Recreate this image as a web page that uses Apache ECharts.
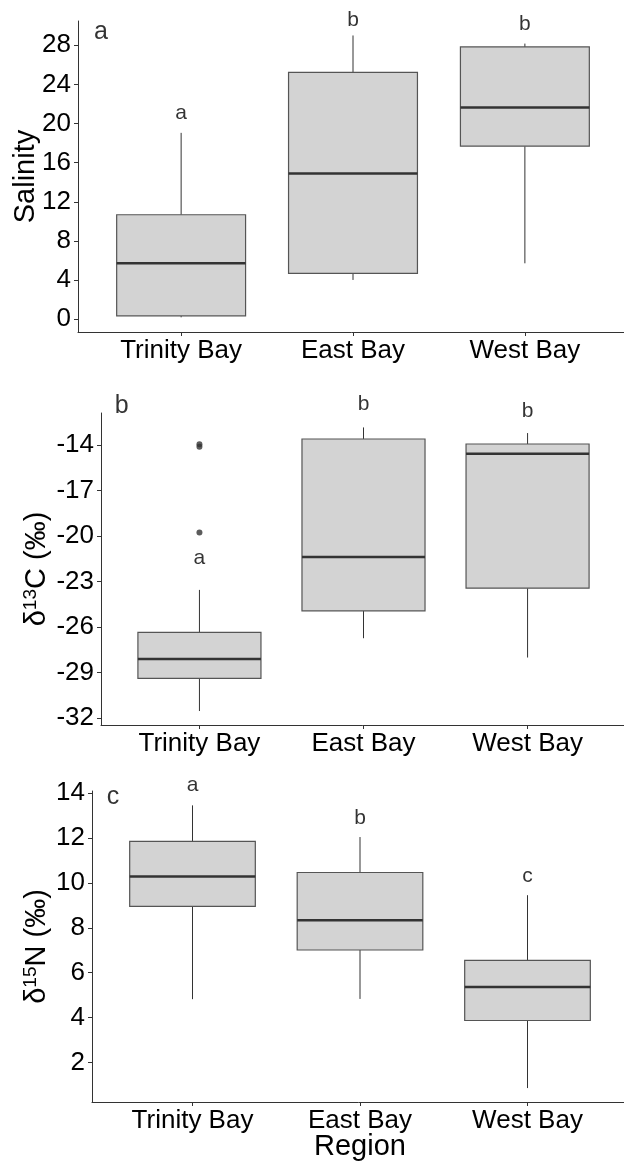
<!DOCTYPE html>
<html>
<head>
<meta charset="utf-8">
<script src="https://cdn.jsdelivr.net/npm/echarts@6/dist/echarts.min.js"></script>
<style>
  html, body { margin: 0; padding: 0; background: #fff; }
  #chart { width: 624px; height: 1161px; }
</style>
</head>
<body>
<div id="chart"></div>
<script>
// categories
const regions = ['Trinity Bay', 'East Bay', 'West Bay']

// box stats per region: [lower whisker, Q1, median, Q3, upper whisker]
const salinityStats = [
  [0.2, 0.35, 5.72, 10.68, 19.05],
  [4.02, 4.7, 14.9, 25.24, 29.0],
  [5.72, 17.69, 21.64, 27.83, 28.17]
]
const d13CStats = [
  [-31.52, -29.37, -28.09, -26.34, -23.55],
  [-26.73, -24.93, -21.38, -13.62, -12.86],
  [-28.0, -23.44, -14.59, -13.95, -13.23]
]
const d15NStats = [
  [4.82, 8.95, 10.28, 11.85, 13.45],
  [4.83, 7.01, 8.33, 10.46, 12.04],
  [0.86, 3.87, 5.36, 6.55, 9.45]
]

// outliers: [region position, value]
const d13COutliers = [[1, -13.97], [1, -14.13], [1, -19.78]]

// significance letters and where they sit
const salinityLetters = ['a', 'b', 'b']
const salinityLetterY = [21.09, 30.61, 30.2]
const d13CLetters = ['a', 'b', 'b']
const d13CLetterY = [-21.49, -11.33, -11.76]
const d15NLetters = ['a', 'b', 'c']
const d15NLetterY = [14.37, 12.89, 10.3]

// panel tags: [x, y]
const panelTags = ['a', 'b', 'c']
const panelTagPos = [[0.534, 29.33], [0.526, -11.45], [0.526, 13.84]]

// axis ticks and ranges
const salinityTicks = [0, 4, 8, 12, 16, 20, 24, 28]
const d13CTicks = [-32, -29, -26, -23, -20, -17, -14]
const d15NTicks = [2, 4, 6, 8, 10, 12, 14]
const salinityRange = [-1.3, 30.48]
const d13CRange = [-32.44, -11.91]
const d15NRange = [0.24, 14.09]

const FONT = 'Liberation Sans, Arial, sans-serif'
const BOX_WIDTH = 0.75

function renderBox(params, api) {
  const x = api.value(0)
  const lo = api.coord([x, api.value(1)])
  const q1 = api.coord([x, api.value(2)])
  const med = api.coord([x, api.value(3)])
  const q3 = api.coord([x, api.value(4)])
  const hi = api.coord([x, api.value(5)])
  const half = api.size([BOX_WIDTH, 0])[0] / 2
  const cx = med[0]
  return {
    type: 'group',
    children: [
      { type: 'line', shape: { x1: cx, y1: q3[1], x2: cx, y2: hi[1] }, style: { stroke: '#333', lineWidth: 1 } },
      { type: 'line', shape: { x1: cx, y1: q1[1], x2: cx, y2: lo[1] }, style: { stroke: '#333', lineWidth: 1 } },
      {
        type: 'rect',
        shape: { x: cx - half, y: q3[1], width: half * 2, height: q1[1] - q3[1] },
        style: { fill: '#d3d3d3', stroke: '#555', lineWidth: 1.2 }
      },
      { type: 'line', shape: { x1: cx - half, y1: med[1], x2: cx + half, y2: med[1] }, style: { stroke: '#333', lineWidth: 2.5 } }
    ]
  }
}

function boxSeries(stats, idx) {
  return {
    type: 'custom',
    xAxisIndex: idx,
    yAxisIndex: idx,
    renderItem: renderBox,
    encode: { x: 0, y: [1, 2, 3, 4, 5] },
    data: stats.map((s, i) => [i + 1].concat(s)),
    silent: true
  }
}

function letterSeries(letters, ys, idx) {
  return {
    type: 'scatter',
    xAxisIndex: idx,
    yAxisIndex: idx,
    symbolSize: 0,
    clip: false,
    silent: true,
    data: letters.map((l, i) => [i + 1, ys[i], l]),
    label: {
      show: true,
      position: 'inside',
      formatter: p => p.value[2],
      fontSize: 21,
      fontFamily: FONT,
      color: '#000'
    }
  }
}

function tagSeries(idx) {
  return {
    type: 'scatter',
    xAxisIndex: idx,
    yAxisIndex: idx,
    symbolSize: 0,
    clip: false,
    silent: true,
    data: [[panelTagPos[idx][0], panelTagPos[idx][1], panelTags[idx]]],
    label: {
      show: true,
      position: 'inside',
      formatter: p => p.value[2],
      fontSize: 25,
      fontFamily: FONT,
      color: '#000'
    }
  }
}

function xAxis(idx, withName) {
  const ax = {
    type: 'value',
    gridIndex: idx,
    min: 0.4,
    max: 3.6,
    splitLine: { show: false },
    axisLine: { show: true, onZero: false, lineStyle: { color: '#333', width: 1 } },
    axisTick: { show: true, customValues: [1, 2, 3], length: 4, lineStyle: { color: '#333' } },
    axisLabel: {
      customValues: [1, 2, 3],
      formatter: v => regions[Math.round(v) - 1],
      fontSize: 26,
      fontFamily: FONT,
      color: '#000',
      margin: 6
    }
  }
  if (withName) {
    ax.name = 'Region'
    ax.nameLocation = 'middle'
    ax.nameGap = 30
    ax.nameMoveOverlap = false
    ax.nameTextStyle = { fontSize: 29, fontFamily: FONT, color: '#000' }
  }
  return ax
}

function yAxis(idx, range, ticks, name, gap, rich) {
  return {
    type: 'value',
    gridIndex: idx,
    min: range[0],
    max: range[1],
    splitLine: { show: false },
    axisLine: { show: true, onZero: false, lineStyle: { color: '#333', width: 1 } },
    axisTick: { show: true, customValues: ticks, length: 4, lineStyle: { color: '#333' } },
    axisLabel: {
      customValues: ticks,
      fontSize: 26,
      fontFamily: FONT,
      color: '#000',
      margin: 7
    },
    name: name,
    nameLocation: 'middle',
    nameGap: gap,
    nameMoveOverlap: false,
    nameTextStyle: {
      fontSize: 29,
      fontFamily: FONT,
      color: '#000',
      rich: rich
    }
  }
}

const isoRich = {
  n: { fontSize: 29, fontFamily: FONT, color: '#000', lineHeight: 32 },
  s: { fontSize: 19, fontFamily: FONT, color: '#000', lineHeight: 19, verticalAlign: 'top' }
}

const chart = echarts.init(document.getElementById('chart'))
chart.setOption({
  backgroundColor: '#fff',
  animation: false,
  grid: [
    { left: 78, right: -4, top: 21, height: 311, outerBoundsMode: 'none' },
    { left: 101, right: -2, top: 413, height: 312, outerBoundsMode: 'none' },
    { left: 92, right: -4, top: 791, height: 311, outerBoundsMode: 'none' }
  ],
  xAxis: [xAxis(0, false), xAxis(1, false), xAxis(2, true)],
  yAxis: [
    yAxis(0, salinityRange, salinityTicks, 'Salinity', 38, null),
    yAxis(1, d13CRange, d13CTicks, '{n|δ}{s|13}{n|C (‰)}', 48, isoRich),
    yAxis(2, d15NRange, d15NTicks, '{n|δ}{s|15}{n|N (‰)}', 39, isoRich)
  ],
  series: [
    boxSeries(salinityStats, 0),
    boxSeries(d13CStats, 1),
    boxSeries(d15NStats, 2),
    {
      type: 'scatter',
      xAxisIndex: 1,
      yAxisIndex: 1,
      symbolSize: 6,
      silent: true,
      itemStyle: { color: '#333' },
      data: d13COutliers
    },
    letterSeries(salinityLetters, salinityLetterY, 0),
    letterSeries(d13CLetters, d13CLetterY, 1),
    letterSeries(d15NLetters, d15NLetterY, 2),
    tagSeries(0),
    tagSeries(1),
    tagSeries(2)
  ]
})
</script>
</body>
</html>
